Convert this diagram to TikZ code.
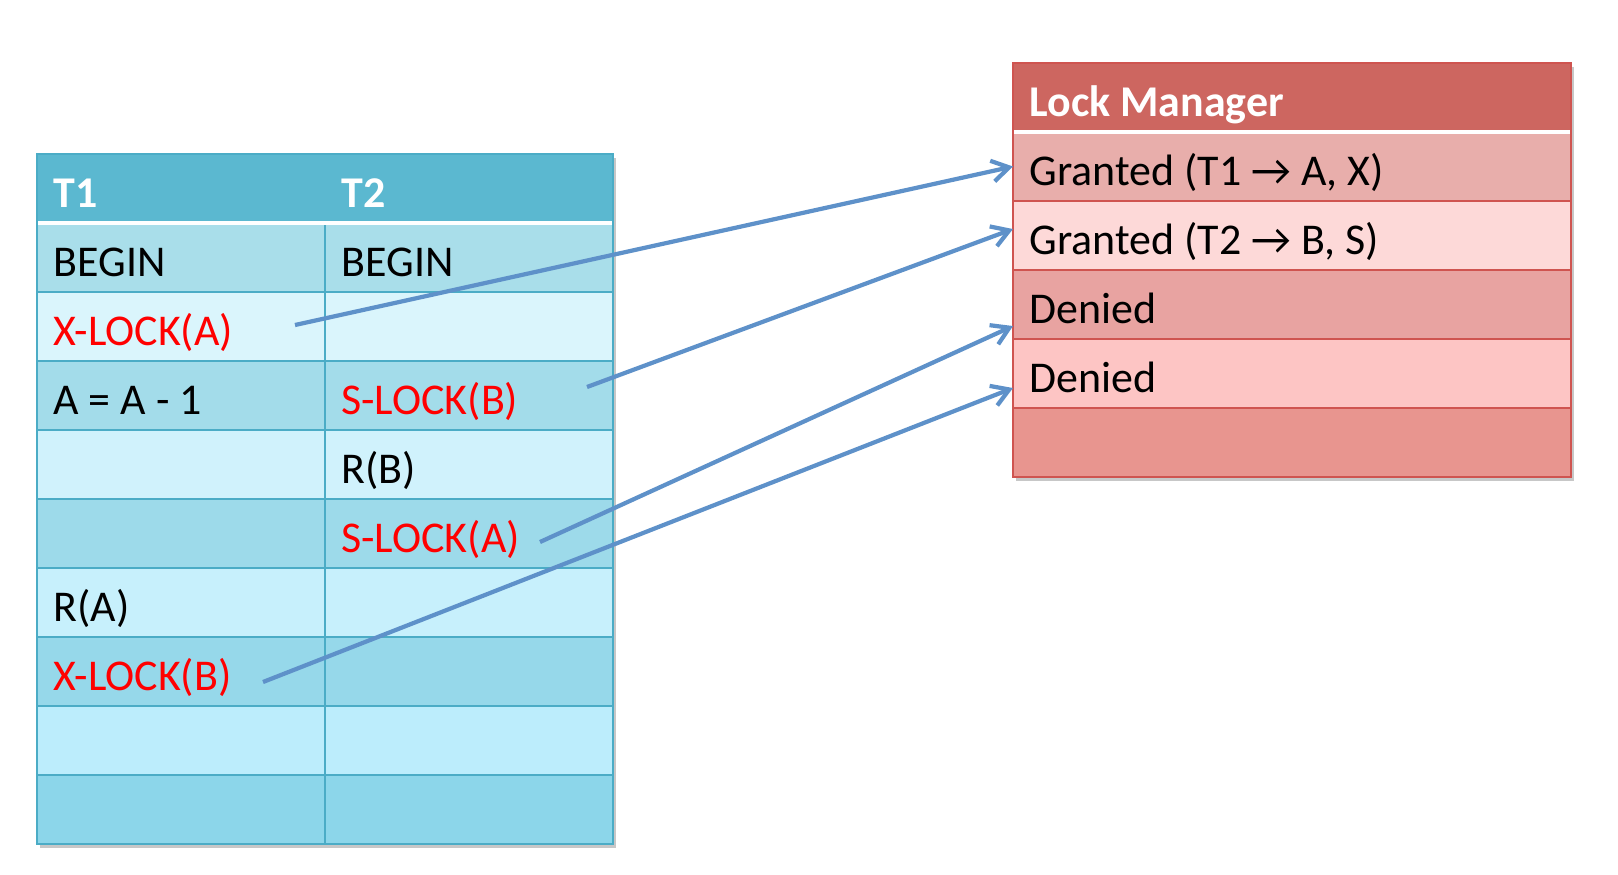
\documentclass[tikz,border=0pt]{standalone}
\usepackage{fontspec}
\setmainfont{Carlito}
\usetikzlibrary{positioning, arrows.meta, calc, backgrounds}
\definecolor{tHead}{HTML}{5BB8D0}
\definecolor{tLine}{HTML}{4BACC6}
\definecolor{tRowOne}{HTML}{A9DEEA}
\definecolor{tRowTwo}{HTML}{DAF5FC}
\definecolor{tRowThree}{HTML}{A3DCEA}
\definecolor{tRowFour}{HTML}{D0F2FC}
\definecolor{tRowFive}{HTML}{9DDAEA}
\definecolor{tRowSix}{HTML}{C7F0FC}
\definecolor{tRowSeven}{HTML}{96D8EA}
\definecolor{tRowEight}{HTML}{BCEDFC}
\definecolor{tRowNine}{HTML}{8CD6EA}
\definecolor{lmHead}{HTML}{CD6660}
\definecolor{lmLine}{HTML}{CF5450}
\definecolor{lmRowOne}{HTML}{E8AEAB}
\definecolor{lmRowTwo}{HTML}{FDD9D8}
\definecolor{lmRowThree}{HTML}{E8A3A1}
\definecolor{lmRowFour}{HTML}{FDC5C4}
\definecolor{lmRowFive}{HTML}{E8958F}
\definecolor{arrowBlue}{HTML}{5E91C9}
\tikzstyle{tcell} =[rectangle, minimum width=5.76cm, minimum height=1.38cm, text width=5.1cm, text height=0.84cm, text depth=0.1cm, inner xsep=0.33cm, inner ysep=0pt, align=flush left, outer sep=0pt, draw=tLine, line width=0.6pt, font=\fontsize{25}{30}\selectfont]
\tikzstyle{thead} =[tcell, draw=none, text=white, font=\fontsize{25}{30}\selectfont\bfseries]
\tikzstyle{lmcell} =[tcell, minimum width=11.16cm, text width=10.5cm, draw=lmLine]
\tikzstyle{lmhead} =[lmcell, draw=none, text=white, font=\fontsize{25}{30}\selectfont\bfseries]
\tikzstyle{lockop} =[text=red]
\tikzstyle{lockarrow} =[-{Straight Barb[length=0.34cm, width=0.42cm]}, line width=2.4pt, color=arrowBlue]

\begin{document}
\begin{tikzpicture}
\useasboundingbox (0,0) rectangle (32.36,-17.48);

% transactions
\node (hdrT1) [thead, fill=tHead, anchor=north west] at (0.74,-3.08) {T1};
\node (hdrT2) [thead, fill=tHead, right=0cm of hdrT1] {T2};

\node (beginA) [tcell, fill=tRowOne, below=0cm of hdrT1] {BEGIN};
\node (beginB) [tcell, fill=tRowOne, right=0cm of beginA] {BEGIN};

\node (xlockA) [tcell, fill=tRowTwo, lockop, below=0cm of beginA] {X-LOCK(A)};
\node (emptyB2) [tcell, fill=tRowTwo, right=0cm of xlockA] {};

\node (decA) [tcell, fill=tRowThree, below=0cm of xlockA] {A = A - 1};
\node (slockB) [tcell, fill=tRowThree, lockop, right=0cm of decA] {S-LOCK(B)};

\node (emptyA4) [tcell, fill=tRowFour, below=0cm of decA] {};
\node (readB) [tcell, fill=tRowFour, right=0cm of emptyA4] {R(B)};

\node (emptyA5) [tcell, fill=tRowFive, below=0cm of emptyA4] {};
\node (slockA) [tcell, fill=tRowFive, lockop, right=0cm of emptyA5] {S-LOCK(A)};

\node (readA) [tcell, fill=tRowSix, below=0cm of emptyA5] {R(A)};
\node (emptyB6) [tcell, fill=tRowSix, right=0cm of readA] {};

\node (xlockB) [tcell, fill=tRowSeven, lockop, below=0cm of readA] {X-LOCK(B)};
\node (emptyB7) [tcell, fill=tRowSeven, right=0cm of xlockB] {};

\node (emptyA8) [tcell, fill=tRowEight, below=0cm of xlockB] {};
\node (emptyB8) [tcell, fill=tRowEight, right=0cm of emptyA8] {};

\node (emptyA9) [tcell, fill=tRowNine, below=0cm of emptyA8] {};
\node (emptyB9) [tcell, fill=tRowNine, right=0cm of emptyA9] {};

\draw[white, line width=2.5pt] (hdrT1.south west) -- (hdrT2.south east);
\draw[tLine, line width=1pt] (hdrT1.north west) rectangle (emptyB9.south east);

% lock manager
\node (lmTitle) [lmhead, fill=lmHead, anchor=north west] at (20.26,-1.26) {Lock Manager};
\node (grantOne) [lmcell, fill=lmRowOne, below=0cm of lmTitle] {Granted (T1 → A, X)};
\node (grantTwo) [lmcell, fill=lmRowTwo, below=0cm of grantOne] {Granted (T2 → B, S)};
\node (denyOne) [lmcell, fill=lmRowThree, below=0cm of grantTwo] {Denied};
\node (denyTwo) [lmcell, fill=lmRowFour, below=0cm of denyOne] {Denied};
\node (lmEmpty) [lmcell, fill=lmRowFive, below=0cm of denyTwo] {};

\draw[white, line width=2.5pt] (lmTitle.south west) -- (lmTitle.south east);
\draw[lmLine, line width=1pt] (lmTitle.north west) rectangle (lmEmpty.south east);

\begin{scope}[on background layer]
\fill[black!22] ($(hdrT1.north west)+(0.05,-0.08)$) rectangle ($(emptyB9.south east)+(0.05,-0.08)$);
\fill[black!22] ($(lmTitle.north west)+(0.05,-0.08)$) rectangle ($(lmEmpty.south east)+(0.05,-0.08)$);
\end{scope}

% requests
\coordinate (xlockAReq) at ($(xlockA.east)+(-0.6,0.03)$);
\coordinate (slockBReq) at ($(slockB.east)+(-0.52,0.17)$);
\coordinate (slockAReq) at ($(slockA.east)+(-1.46,-0.17)$);
\coordinate (xlockBReq) at ($(xlockB.east)+(-1.24,-0.21)$);

\draw[lockarrow] (xlockAReq) -- (grantOne.west);
\draw[lockarrow] (slockBReq) -- ($(grantTwo.west)+(0,0.13)$);
\draw[lockarrow] (slockAReq) -- ($(denyOne.west)+(0,-0.43)$);
\draw[lockarrow] (xlockBReq) -- ($(denyTwo.west)+(0,-0.29)$);

\end{tikzpicture}
\end{document}
